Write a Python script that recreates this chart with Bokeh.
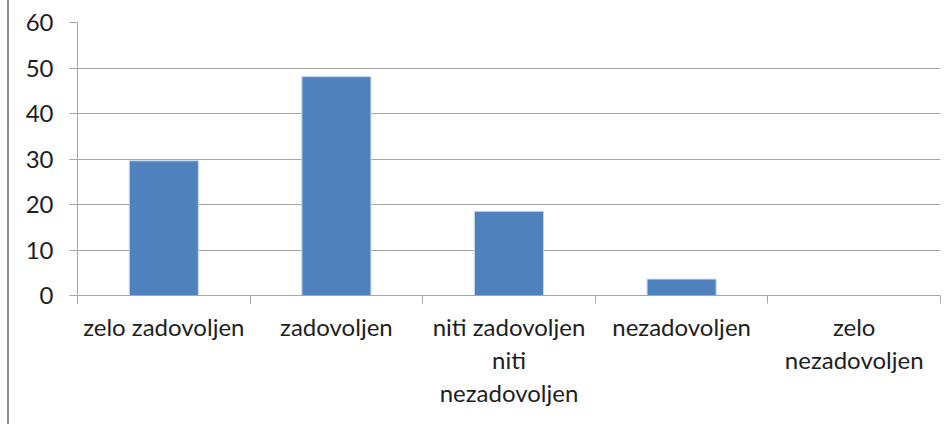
from bokeh.plotting import figure
from bokeh.models import Range1d, LinearAxis, FixedTicker, ColumnDataSource
from bokeh.embed import file_html
from bokeh.resources import INLINE

categories = ["zelo zadovoljen", "zadovoljen", "niti zadovoljen\nniti\nnezadovoljen",
              "nezadovoljen", "zelo\nnezadovoljen"]
values = [29.6, 48.1, 18.5, 3.6, 0]
y_ticks = [0, 10, 20, 30, 40, 50, 60]

n = len(categories)
centers = [i + 0.5 for i in range(n)]
bounds = list(range(n + 1))

FONT = "Lato"
TXT = "#1e1e1e"
GRID = "#a6a6a6"

p = figure(width=935, height=424, output_backend="svg", toolbar_location=None,
           x_range=Range1d(0, n), y_range=Range1d(0, 60),
           x_axis_location=None, min_border_left=68, min_border_right=4,
           min_border_top=22, min_border_bottom=129)
p.outline_line_color = None
p.styles = {"margin-left": "7px", "border-left": "2px solid #8c8c8c"}

src = ColumnDataSource(dict(x=centers, top=values))
p.vbar(x="x", top="top", width=0.4, bottom=0, source=src,
       fill_color="#4f81bd", line_color="#c6d6ea", line_width=1)

p.xgrid.visible = False
p.ygrid.grid_line_color = GRID
p.ygrid.grid_line_width = 1
p.ygrid.ticker = FixedTicker(ticks=y_ticks)

ya = p.yaxis[0]
ya.ticker = FixedTicker(ticks=y_ticks)
ya.axis_line_color = GRID
ya.major_tick_line_color = GRID
ya.major_tick_out = 8
ya.major_tick_in = 0
ya.minor_tick_line_color = None
ya.major_label_standoff = 16
ya.major_label_text_font = FONT
ya.major_label_text_font_size = "24px"
ya.major_label_text_color = TXT

# axis with ticks at category boundaries
tick_axis = LinearAxis(ticker=FixedTicker(ticks=bounds),
                       major_label_overrides={b: "" for b in bounds})
tick_axis.axis_line_color = GRID
tick_axis.major_tick_line_color = GRID
tick_axis.major_tick_out = 8
tick_axis.major_tick_in = 0
tick_axis.minor_tick_line_color = None
tick_axis.major_label_text_font_size = "1px"
tick_axis.major_label_standoff = 0
p.add_layout(tick_axis, "below")

# axis with category labels at centres
lab_axis = LinearAxis(ticker=FixedTicker(ticks=centers),
                      major_label_overrides={c: lab for c, lab in zip(centers, categories)})
lab_axis.axis_line_color = None
lab_axis.major_tick_line_color = None
lab_axis.minor_tick_line_color = None
lab_axis.major_tick_out = 0
lab_axis.major_tick_in = 0
lab_axis.major_label_standoff = 8
lab_axis.major_label_text_font = FONT
lab_axis.major_label_text_font_size = "24px"
lab_axis.major_label_text_color = TXT
lab_axis.major_label_text_line_height = 1.15
p.add_layout(lab_axis, "below")

open("out.html", "w").write(file_html(p, INLINE))
